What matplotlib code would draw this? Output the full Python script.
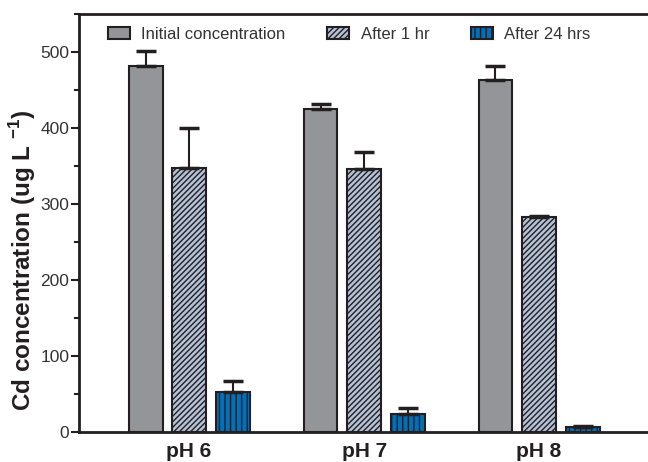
import matplotlib
matplotlib.use("Agg")
import matplotlib.pyplot as plt
import numpy as np
from matplotlib.ticker import MultipleLocator

plt.rcParams['font.family'] = ['Liberation Sans', 'DejaVu Sans']
plt.rcParams['hatch.linewidth'] = 1.0

groups = ["pH 6", "pH 7", "pH 8"]
series = ["Initial concentration", "After 1 hr", "After 24 hrs"]
initial = [482, 425, 463]
initial_err = [19, 6, 18]
after1 = [347, 346, 283]
after1_err = [53, 22, 1]
after24 = [52, 24, 6]
after24_err = [15, 7, 2]

values = [initial, after1, after24]
errors = [initial_err, after1_err, after24_err]
faces = ["#939598", "#b4c2d8", "#0070b8"]
hatches = [None, "//////", "|||"]

fig = plt.figure(figsize=(6.48, 4.62), dpi=100)
ax = fig.add_axes([0.122, 0.065, 0.88, 0.905])

x = np.arange(len(groups))
w = 0.194
step = 0.249
edge = "#231f20"
for i, (vals, errs) in enumerate(zip(values, errors)):
    pos = x + (i - 1) * step
    ax.bar(pos, vals, width=w, color=faces[i], edgecolor=edge, linewidth=1.5,
           hatch=hatches[i], label=series[i], zorder=2)
    ax.errorbar(pos, vals, yerr=[np.zeros(len(vals)), errs], fmt='none',
                ecolor=edge, elinewidth=1.5, capsize=7, capthick=2.5, zorder=3)

ax.set_xlim(-0.629, 2.63)
ax.set_ylim(0, 550)
ax.yaxis.set_major_locator(MultipleLocator(100))
ax.yaxis.set_minor_locator(MultipleLocator(50))
ax.set_xticks(x)
ax.set_xticklabels(groups, fontsize=15, fontweight='bold', color='#231f20')
ax.tick_params(axis='x', length=0, pad=7)
ax.tick_params(axis='y', which='major', length=6, width=1.5, labelsize=12.5,
               colors='#231f20', labelcolor='#333333', pad=1)
ax.tick_params(axis='y', which='minor', length=3.5, width=1.5, colors='#231f20')
for s in ['left', 'top', 'bottom']:
    ax.spines[s].set_linewidth(2)
    ax.spines[s].set_color('#231f20')
ax.spines['right'].set_visible(False)
ax.set_ylabel("Cd concentration (ug L $^{\\mathregular{-1}}$)", fontsize=17.5,
              fontweight='bold', color='#231f20')
ax.yaxis.set_label_coords(38 / 648, 1 - 260 / 462, transform=fig.transFigure)

leg = ax.legend(loc='upper left', bbox_to_anchor=(108 / 648, 1 - 27 / 462),
                bbox_transform=fig.transFigure, ncol=3, frameon=False,
                fontsize=12, handlelength=1.3, handleheight=0.72, columnspacing=2.5,
                handletextpad=0.7, borderaxespad=0, borderpad=0)
for t in leg.get_texts():
    t.set_color('#333333')

fig.savefig("out.png", dpi=100)
